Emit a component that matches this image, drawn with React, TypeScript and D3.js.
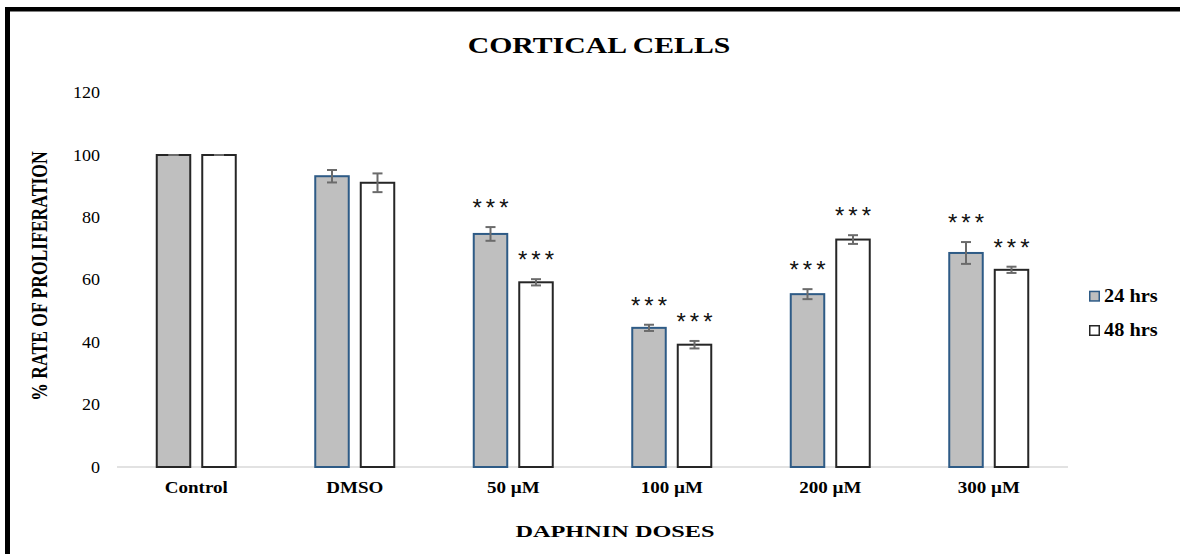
import React from "react";
import * as d3 from "d3";

const categories = ["Control", "DMSO", "50 µM", "100 µM", "200 µM", "300 µM"];
const seriesNames = ["24 hrs", "48 hrs"];
const mean24 = [100, 93.2, 74.7, 44.6, 55.4, 68.6];
const err24 = [0, 2.0, 2.2, 1.0, 1.6, 3.5];
const mean48 = [100, 91.1, 59.2, 39.2, 72.9, 63.2];
const err48 = [0, 3.0, 1.0, 1.2, 1.4, 1.0];
const sig24 = ["", "", "***", "***", "***", "***"];
const sig48 = ["", "", "***", "***", "***", "***"];
const yTicks = [0, 20, 40, 60, 80, 100, 120];
const chartTitle = "CORTICAL CELLS";
const xTitle = "DAPHNIN DOSES";
const yTitle = "% RATE OF PROLIFERATION";

const W = 1180;
const H = 554;
const SERIF = "'Liberation Serif', 'Times New Roman', serif";

export default function App() {
  const x = d3.scaleBand<string>().domain(categories).range([117, 1068]);
  const y = d3.scaleLinear().domain([0, 120]).range([467, 92.6]);
  const barW = 35.5;
  const gap = 10;

  const series = [
    { name: seriesNames[0], mean: mean24, err: err24, sig: sig24, fill: "#bfbfbf", stroke: "#2e5b86", off: -gap / 2 - barW },
    { name: seriesNames[1], mean: mean48, err: err48, sig: sig48, fill: "#ffffff", stroke: "#262626", off: gap / 2 },
  ];

  return (
    <svg width={W} height={H} style={{ position: "absolute", left: 0, top: 0, background: "#fff" }}>
      <rect x={0} y={0} width={W} height={H} fill="#fff" />
      {/* frame */}
      <rect x={5} y={7} width={W - 5} height={4.5} fill="#000" />
      <rect x={5} y={7} width={5} height={H - 7} fill="#000" />

      {/* title */}
      <text transform={`translate(599,53.3) scale(1.24,1)`} textAnchor="middle" fontFamily={SERIF} fontWeight="bold" fontSize={24} fill="#000">
        {chartTitle}
      </text>

      {/* y tick labels */}
      {yTicks.map((t) => (
        <text key={t} transform={`translate(100,${y(t) + 5.5}) scale(1.13,1)`} textAnchor="end" fontFamily={SERIF} fontSize={16} fill="#000">
          {t}
        </text>
      ))}

      {/* axis line */}
      <line x1={117} x2={1068} y1={y(0)} y2={y(0)} stroke="#d9d9d9" strokeWidth={1.5} />

      {/* bars */}
      {series.map((s, si) =>
        categories.map((c, i) => {
          const cx = (x(c) as number) + x.bandwidth() / 2;
          const bx = cx + s.off;
          const top = y(s.mean[i]);
          const stroke = si === 0 && i === 0 ? "#262626" : s.stroke;
          const eTop = y(s.mean[i] + s.err[i]);
          const eBot = y(s.mean[i] - s.err[i]);
          const mid = bx + barW / 2;
          return (
            <g key={`${si}-${i}`}>
              <rect x={bx + 1} y={top} width={barW - 2} height={y(0) - top} fill={s.fill} stroke={stroke} strokeWidth={2} />
              <line x1={mid} x2={mid} y1={eTop} y2={eBot} stroke="#6b6b6b" strokeWidth={2} />
              <line x1={mid - 5} x2={mid + 5} y1={eTop} y2={eTop} stroke="#6b6b6b" strokeWidth={2} />
              <line x1={mid - 5} x2={mid + 5} y1={eBot} y2={eBot} stroke="#6b6b6b" strokeWidth={2} />
              {s.sig[i] && (
                <text x={mid + 2} y={eTop - 24 + 13} textAnchor="middle" letterSpacing={4} fontFamily="'Liberation Sans', Arial, sans-serif" fontSize={24} fill="#111">
                  {s.sig[i]}
                </text>
              )}
            </g>
          );
        })
      )}

      {/* x tick labels */}
      {categories.map((c) => (
        <text key={c} transform={`translate(${(x(c) as number) + x.bandwidth() / 2},492.7) scale(1.12,1)`} textAnchor="middle" fontFamily={SERIF} fontWeight="bold" fontSize={17} fill="#000">
          {c}
        </text>
      ))}

      {/* axis titles */}
      <text transform={`translate(615,537) scale(1.43,1)`} textAnchor="middle" fontFamily={SERIF} fontWeight="bold" fontSize={17} fill="#000">
        {xTitle}
      </text>
      <text transform={`translate(46.5,276) rotate(-90) scale(0.88,1.2)`} textAnchor="middle" fontFamily={SERIF} fontWeight="bold" fontSize={20} fill="#000">
        {yTitle}
      </text>

      {/* legend */}
      {series.map((s, si) => (
        <g key={s.name} transform={`translate(1089,${290.7 + si * 34.3})`}>
          <rect x={0.75} y={0.75} width={9.5} height={9.5} fill={s.fill} stroke={s.stroke} strokeWidth={1.5} />
          <text transform={`translate(15,11) scale(1.13,1)`} fontFamily={SERIF} fontWeight="bold" fontSize={18} fill="#000">
            {s.name}
          </text>
        </g>
      ))}
    </svg>
  );
}
